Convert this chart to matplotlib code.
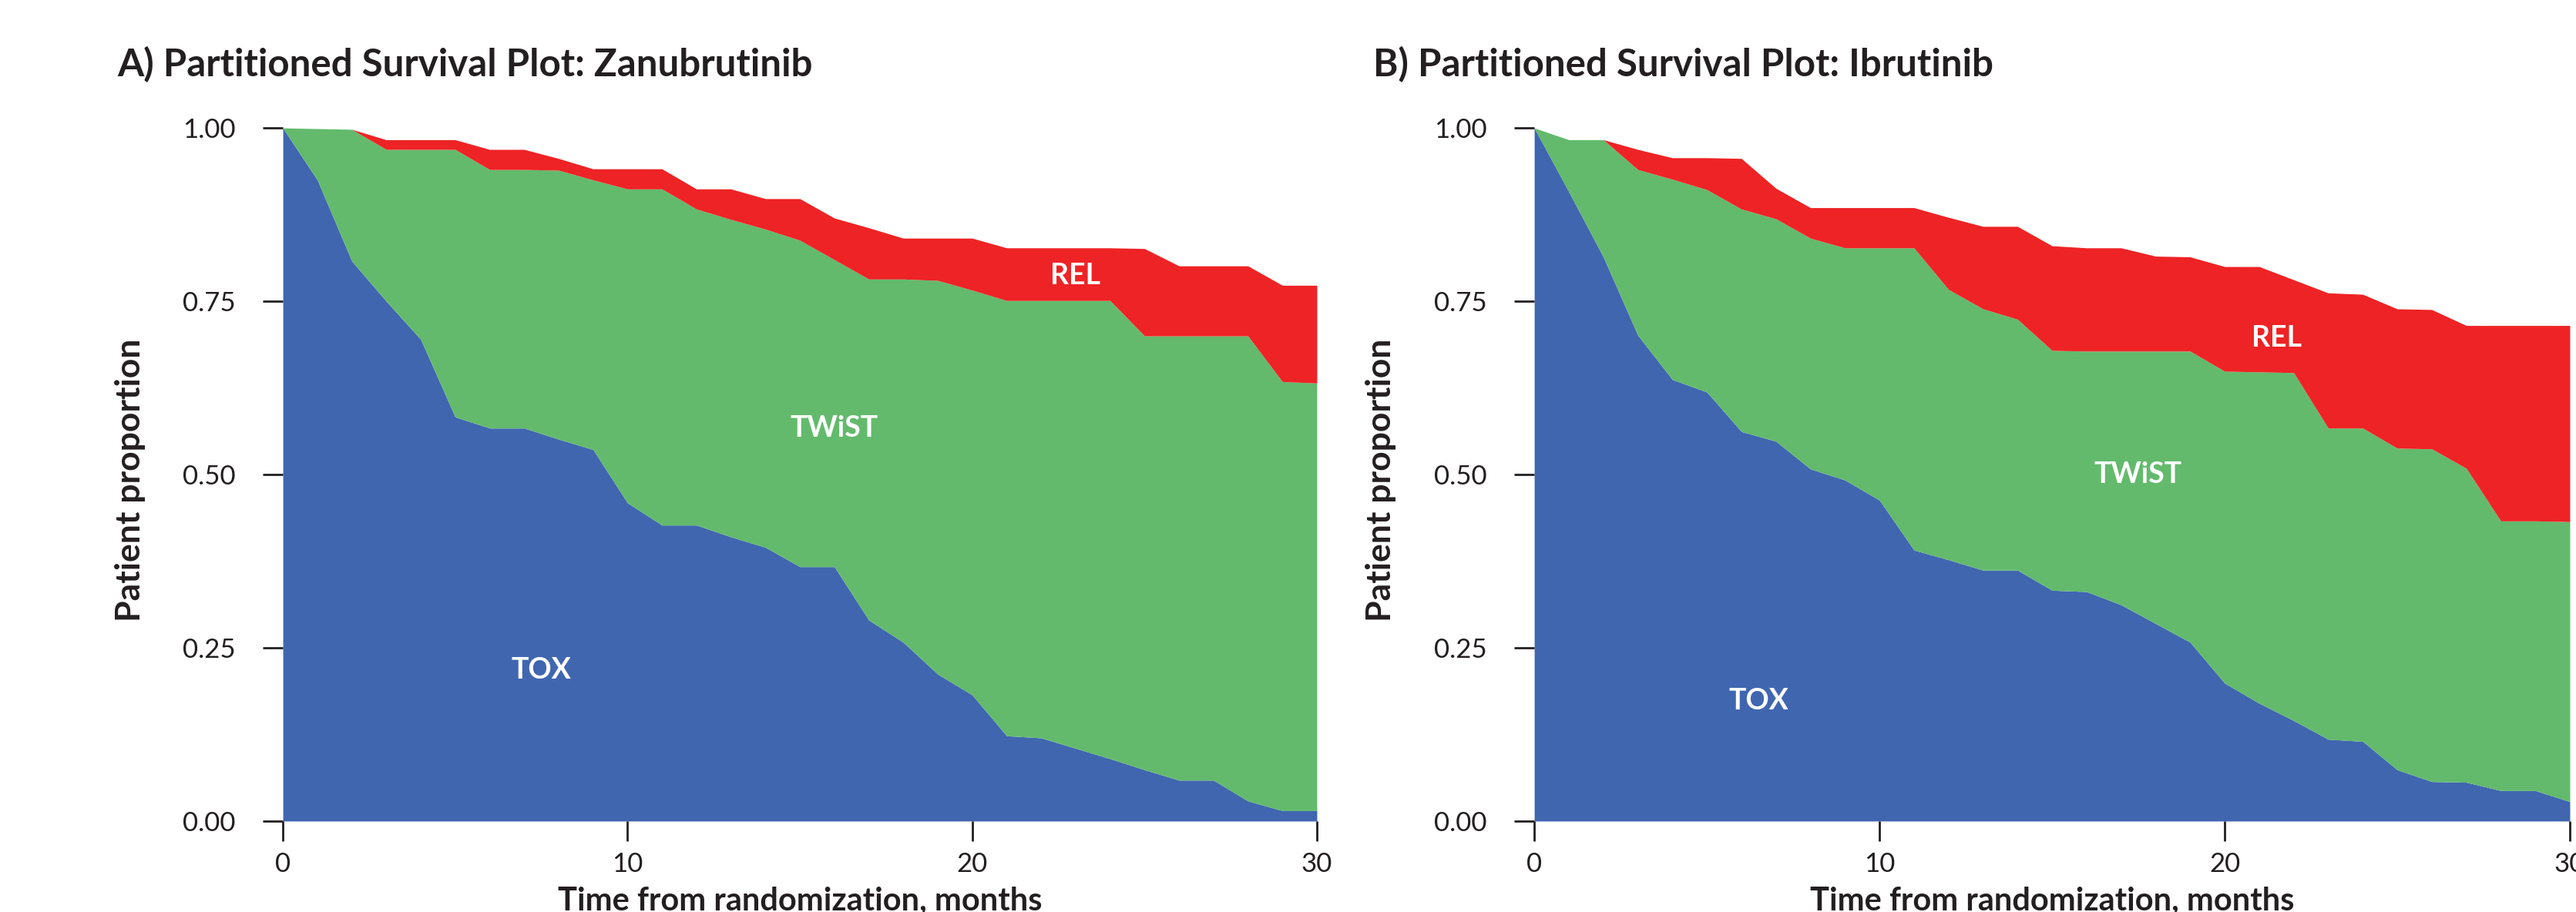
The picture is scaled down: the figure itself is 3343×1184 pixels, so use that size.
import matplotlib
matplotlib.use('Agg')
from matplotlib import pyplot as plt
from matplotlib.ticker import FormatStrFormatter

months = list(range(31))

# Zanubrutinib: cumulative tops of each state (TOX, TOX+TWiST, overall)
zanu_tox = [1.00, 0.925, 0.808, 0.750, 0.695, 0.583, 0.567, 0.567, 0.551, 0.536,
            0.459, 0.427, 0.427, 0.410, 0.395, 0.367, 0.367, 0.290, 0.258, 0.212,
            0.182, 0.123, 0.120, 0.105, 0.090, 0.074, 0.059, 0.059, 0.029, 0.015,
            0.015]
zanu_twist = [1.00, 0.999, 0.998, 0.969, 0.969, 0.969, 0.940, 0.940, 0.939, 0.925,
              0.912, 0.912, 0.883, 0.868, 0.854, 0.838, 0.810, 0.782, 0.782, 0.780,
              0.766, 0.751, 0.751, 0.751, 0.751, 0.700, 0.700, 0.700, 0.700, 0.634,
              0.632]
zanu_os = [1.00, 0.999, 0.998, 0.983, 0.983, 0.983, 0.969, 0.969, 0.956, 0.941,
           0.941, 0.941, 0.912, 0.912, 0.898, 0.898, 0.870, 0.856, 0.841, 0.841,
           0.841, 0.827, 0.827, 0.827, 0.827, 0.826, 0.801, 0.801, 0.801, 0.773,
           0.773]

# Ibrutinib
ibru_tox = [1.00, 0.908, 0.814, 0.701, 0.637, 0.619, 0.562, 0.548, 0.508, 0.492,
            0.463, 0.391, 0.377, 0.362, 0.362, 0.333, 0.331, 0.312, 0.285, 0.258,
            0.199, 0.170, 0.145, 0.118, 0.115, 0.074, 0.057, 0.056, 0.044, 0.044,
            0.028]
ibru_twist = [1.00, 0.983, 0.983, 0.940, 0.926, 0.911, 0.883, 0.869, 0.841, 0.827,
              0.827, 0.827, 0.767, 0.739, 0.724, 0.679, 0.678, 0.678, 0.678, 0.678,
              0.649, 0.648, 0.647, 0.567, 0.567, 0.538, 0.537, 0.509, 0.433, 0.433,
              0.432]
ibru_os = [1.00, 0.983, 0.983, 0.969, 0.957, 0.957, 0.956, 0.913, 0.885, 0.885,
           0.885, 0.885, 0.871, 0.858, 0.858, 0.830, 0.827, 0.827, 0.815, 0.814,
           0.800, 0.800, 0.781, 0.762, 0.760, 0.739, 0.738, 0.715, 0.715, 0.715,
           0.715]

titles = ['A) Partitioned Survival Plot: Zanubrutinib',
          'B) Partitioned Survival Plot: Ibrutinib']
state_names = ['TOX', 'TWiST', 'REL']
# label anchor points (month, proportion) per panel
label_pos = [[(7.5, 0.218), (16.0, 0.567), (23.0, 0.787)],
             [(6.5, 0.173), (17.5, 0.50), (21.5, 0.697)]]

BLUE = '#4066B0'
GREEN = '#63BA6C'
RED = '#EE2325'
INK = '#231F20'

plt.rcParams['font.family'] = ['Lato', 'DejaVu Sans']

fig = plt.figure(figsize=(33.43, 11.84), dpi=100)
axes = [fig.add_axes([0.1098, 0.0997, 0.4014, 0.760]),
        fig.add_axes([0.5956, 0.0997, 0.4020, 0.760])]
title_x = [152 / 3343, 1782 / 3343]

panels = [(zanu_tox, zanu_twist, zanu_os), (ibru_tox, ibru_twist, ibru_os)]

for i, ax in enumerate(axes):
    tox, twist, os_ = panels[i]
    ax.fill_between(months, 0, tox, color=BLUE, linewidth=0)
    ax.fill_between(months, tox, twist, color=GREEN, linewidth=0)
    ax.fill_between(months, twist, os_, color=RED, linewidth=0)

    ax.set_xlim(0, 30)
    ax.set_ylim(0, 1)
    ax.set_xticks([0, 10, 20, 30])
    ax.set_yticks([0, 0.25, 0.5, 0.75, 1.0])
    ax.yaxis.set_major_formatter(FormatStrFormatter('%.2f'))
    for s in ax.spines.values():
        s.set_visible(False)
    ax.tick_params(direction='out', length=19, width=2, color=INK,
                   labelsize=25, labelcolor=INK)
    ax.tick_params(axis='y', pad=25)
    ax.tick_params(axis='x', pad=10)

    ax.set_ylabel('Patient proportion', fontsize=32, fontweight='bold', color=INK)
    ax.yaxis.set_label_coords(-0.133, 0.492)
    ax.set_xlabel('Time from randomization, months', fontsize=30,
                  fontweight='bold', color=INK)
    ax.xaxis.set_label_coords(0.5, -0.094)

    for name, (lx, ly) in zip(state_names, label_pos[i]):
        ax.text(lx, ly, name, color='white', fontsize=27, fontweight='bold',
                ha='center', va='center')

    fig.text(title_x[i], 0.929, titles[i], fontsize=35.5, fontweight='bold',
             color=INK, ha='left', va='center')

fig.savefig('out.png', dpi=100)
